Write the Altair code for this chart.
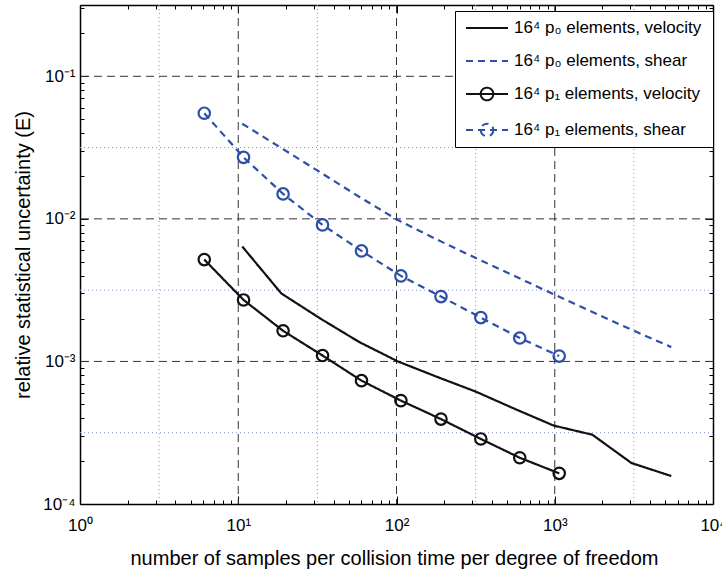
import altair as alt
import pandas as pd

# ---------------- data ----------------
series_names = [
    "16⁴  p₀ elements, velocity",
    "16⁴  p₀ elements, shear",
    "16⁴  p₁ elements, velocity",
    "16⁴  p₁ elements, shear",
]
series_colors = ["#111111", "#2E4FA8", "#111111", "#2E4FA8"]

p0_x = [10.6, 18.7, 33.0, 58.0, 102, 180, 317, 558, 983, 1730, 3050, 5450]
p0_velocity = [0.0064, 0.0030, 0.0020, 0.00137, 0.00100, 0.00078, 0.000614,
               0.000465, 0.000355, 0.000306, 0.000194, 0.000157]
p0_shear = [0.0465, 0.0314, 0.0212, 0.0143, 0.0098, 0.00716, 0.00531,
            0.00397, 0.00296, 0.00222, 0.00167, 0.00126]

p1_x = [6.1, 10.8, 19.2, 34.1, 60.1, 106.6, 191, 341, 601, 1067]
p1_velocity = [0.00518, 0.00270, 0.00164, 0.00110, 0.000733, 0.000531,
               0.000394, 0.000286, 0.000211, 0.000164]
p1_shear = [0.0551, 0.0270, 0.01496, 0.00907, 0.00596, 0.00398, 0.00285,
            0.00203, 0.00146, 0.00109]

x_major_grid = [10, 100, 1000]
x_minor_grid = [3.1623, 31.623, 316.23, 3162.3]
y_major_grid = [0.001, 0.01, 0.1]
y_minor_grid = [0.00031623, 0.0031623, 0.031623]

x_label_values = [1, 10, 100, 1000, 10000]
x_label_texts = ["10⁰", "10¹", "10²", "10³", "10⁴"]
y_label_values = [0.0001, 0.001, 0.01, 0.1]
y_label_texts = ["10⁻⁴", "10⁻³", "10⁻²", "10⁻¹"]

x_tick_values = [k * 10 ** n for n in range(4) for k in range(1, 10)] + [10000]
y_tick_values = [round(k * 10.0 ** n, 6) for n in range(-4, -1) for k in range(1, 10)] + [0.1, 0.2, 0.3]

# ---------------- tables ----------------
rows = []
for name, xs, ys in [
    (series_names[0], p0_x, p0_velocity),
    (series_names[1], p0_x, p0_shear),
    (series_names[2], p1_x, p1_velocity),
    (series_names[3], p1_x, p1_shear),
]:
    for i, (xv, yv) in enumerate(zip(xs, ys)):
        rows.append({"series": name, "x": xv, "y": yv, "i": i})
df = pd.DataFrame(rows)
df_markers = df[df["series"].isin(series_names[2:])]

FONT = "Liberation Sans"
W, H = 633, 499

xscale = alt.Scale(type="log", domain=[1, 10000], nice=False)
yscale = alt.Scale(type="log", domain=[0.0001, 0.31623], nice=False)


def label_expr(values, texts):
    expr = "''"
    for v, t in reversed(list(zip(values, texts))):
        expr = f"abs(datum.value - {v!r}) < {v * 1e-6!r} ? '{t}' : ({expr})"
    return expr


major_test = "abs(log(datum.value)/LN10 - round(log(datum.value)/LN10)) < 0.001"
tick_size = {"condition": {"test": major_test, "value": 8}, "value": 4}

common_tick = dict(ticks=True, tickColor="black", tickWidth=1, tickSize=tick_size,
                   labels=False, title=None, grid=False)

axis_x_bottom = alt.Axis(orient="bottom", values=x_label_values, ticks=False,
                         labelExpr=label_expr(x_label_values, x_label_texts),
                         labelFont=FONT, labelFontSize=17, labelColor="black",
                         labelPadding=26, labelBaseline="alphabetic",
                         labelFlush=False, labelOverlap=False,
                         domain=True, domainColor="black", domainWidth=1.5,
                         grid=False,
                         title="number of samples per collision time per degree of freedom",
                         titleFont=FONT, titleFontSize=20, titleFontWeight="normal",
                         titleColor="black", titleBaseline="alphabetic",
                         titleY=60, titleX=314)
axis_x_bottom_ticks = alt.Axis(orient="top", offset=-H, values=x_tick_values,
                               domain=False, **common_tick)
axis_x_top = alt.Axis(orient="bottom", offset=-H, values=x_tick_values,
                      domain=True, domainColor="black", domainWidth=1.5, **common_tick)

axis_y_left = alt.Axis(orient="left", values=y_label_values, ticks=False,
                       labelExpr=label_expr(y_label_values, y_label_texts),
                       labelFont=FONT, labelFontSize=17, labelColor="black",
                       labelPadding=5, labelBaseline="middle",
                       labelFlush=False, labelOverlap=False,
                       domain=True, domainColor="black", domainWidth=1.5,
                       grid=False,
                       title="relative statistical uncertainty (E)",
                       titleFont=FONT, titleFontSize=20, titleFontWeight="normal",
                       titleColor="black", titleBaseline="alphabetic",
                       titleX=-51, titleY=H / 2, titleAngle=-90)
axis_y_left_ticks = alt.Axis(orient="right", offset=-W, values=y_tick_values,
                             domain=False, **common_tick)
axis_y_right = alt.Axis(orient="left", offset=-W, values=y_tick_values,
                        domain=True, domainColor="black", domainWidth=1.5, **common_tick)

# ---------------- grid layers ----------------
gx_major = alt.Chart(pd.DataFrame({"v": x_major_grid})).mark_rule(
    color="#333333", strokeWidth=1, strokeDash=[8, 5]
).encode(x=alt.X("v:Q", scale=xscale, axis=axis_x_bottom))

gx_minor = alt.Chart(pd.DataFrame({"v": x_minor_grid})).mark_rule(
    color="#7F92DA", strokeWidth=1, strokeDash=[1, 3]
).encode(x=alt.X("v:Q", scale=xscale, axis=axis_x_bottom_ticks))

gy_major = alt.Chart(pd.DataFrame({"v": y_major_grid})).mark_rule(
    color="#333333", strokeWidth=1, strokeDash=[8, 5]
).encode(y=alt.Y("v:Q", scale=yscale, axis=axis_y_left))

gy_minor = alt.Chart(pd.DataFrame({"v": y_minor_grid})).mark_rule(
    color="#7F92DA", strokeWidth=1, strokeDash=[1, 3]
).encode(y=alt.Y("v:Q", scale=yscale, axis=axis_y_left_ticks))

# ---------------- data layers ----------------
color_scale = alt.Scale(domain=series_names, range=series_colors)
dash_scale = alt.Scale(domain=series_names, range=[[1, 0], [7, 5], [1, 0], [7, 5]])
line_only = "M-0.6,0H3.6"
line_circle = "M-0.6,0H3.6M2.13,0A0.63,0.63,0,1,1,0.87,0A0.63,0.63,0,1,1,2.13,0"
shape_paths = [line_only, line_only, line_circle, line_circle]
shape_scale = alt.Scale(domain=series_names, range=shape_paths)

leg = alt.Legend(title=None, orient="none", legendX=375, legendY=6, padding=6,
                 strokeColor="black", fillColor="white", cornerRadius=0,
                 symbolSize=400, symbolStrokeWidth=2, labelFont=FONT,
                 labelFontSize=17, labelColor="black", rowPadding=14,
                 labelOffset=31, labelLimit=400)

lines = alt.Chart(df).mark_line(strokeWidth=2.2, strokeCap="butt").encode(
    x=alt.X("x:Q", scale=xscale, axis=axis_x_top),
    y=alt.Y("y:Q", scale=yscale, axis=axis_y_right),
    color=alt.Color("series:N", scale=color_scale, legend=leg),
    strokeDash=alt.StrokeDash("series:N", scale=dash_scale, legend=leg),
    detail="series:N",
    order="i:Q",
)

markers = alt.Chart(df_markers).mark_point(
    shape="circle", filled=False, size=130, strokeWidth=2.2, opacity=1
).encode(
    x=alt.X("x:Q", scale=xscale, axis=None),
    y=alt.Y("y:Q", scale=yscale, axis=None),
    color=alt.Color("series:N", scale=color_scale, legend=leg),
)

legend_layer = alt.Chart(df).transform_filter("false").mark_point(
    filled=False, strokeWidth=2, opacity=1
).encode(
    x=alt.X("x:Q", scale=xscale, axis=None),
    y=alt.Y("y:Q", scale=yscale, axis=None),
    color=alt.Color("series:N", scale=color_scale, legend=leg),
    strokeDash=alt.StrokeDash("series:N", scale=dash_scale, legend=leg),
    shape=alt.Shape("series:N", scale=shape_scale, legend=leg),
)

chart = alt.layer(
    gx_minor, gy_minor, gx_major, gy_major, lines, markers, legend_layer
).resolve_axis(x="independent", y="independent").properties(
    width=W, height=H,
    autosize=alt.AutoSizeParams(type="none"),
    padding={"left": 80, "top": 5, "right": 9, "bottom": 67},
    background="white",
).configure_view(stroke=None)

chart.save("out.html", embed_options={"renderer": "svg", "actions": False})
